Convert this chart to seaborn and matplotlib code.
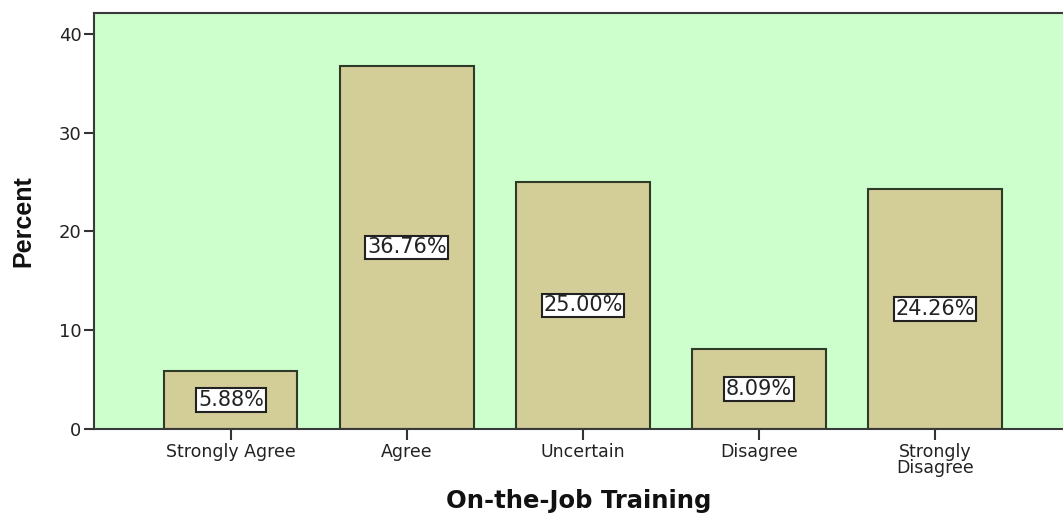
import matplotlib
matplotlib.use("Agg")
import matplotlib.pyplot as plt
import seaborn as sns
import pandas as pd

categories = ["Strongly Agree", "Agree", "Uncertain", "Disagree", "Strongly\nDisagree"]
percents = [5.88, 36.76, 25.00, 8.09, 24.26]
value_labels = ["5.88%", "36.76%", "25.00%", "8.09%", "24.26%"]
y_ticks = [0, 10, 20, 30, 40]

df = pd.DataFrame({"category": categories, "percent": percents})

sns.set_theme(style="white")
plt.rcParams["font.family"] = ["DejaVu Sans"]

fig = plt.figure(figsize=(10.63, 5.14), dpi=100)
ax = fig.add_axes([94 / 1063, 85 / 514, 1 - 94 / 1063, (429 - 13) / 514])
ax.set_facecolor("#CCFFCC")

sns.barplot(data=df, x="category", y="percent", color="#D3CE97",
            edgecolor="#2F3A28", linewidth=1.5, width=0.756, saturation=1,
            ax=ax)

for patch, lab in zip(ax.patches, value_labels):
    cx = patch.get_x() + patch.get_width() / 2
    h = patch.get_height()
    ax.text(cx, h / 2, lab, ha="center", va="center", fontsize=15,
            color="#222222",
            bbox=dict(boxstyle="square,pad=0.08", facecolor="white",
                      edgecolor="#222222", linewidth=1.5))

ax.set_xlim(-0.778, 4.727)
ax.set_ylim(0, 42.1)
ax.set_yticks(y_ticks)
ax.set_yticklabels([str(v) for v in y_ticks], fontsize=13, color="#222222")
ax.set_xticks(range(len(categories)))
ax.set_xticklabels(categories, fontsize=12.5, color="#222222", linespacing=0.9)

ax.tick_params(axis="y", direction="out", length=7, width=1.5, color="#333333", pad=2, left=True)
ax.tick_params(axis="x", direction="out", length=8, width=1.5, color="#333333", pad=2, bottom=True)

for side in ["left", "top", "bottom"]:
    ax.spines[side].set_visible(True)
    ax.spines[side].set_color("#3A3A3A")
    ax.spines[side].set_linewidth(1.5)
ax.spines["right"].set_visible(False)

ax.set_xlabel("On-the-Job Training", fontsize=17.5, fontweight="bold",
              color="#111111", labelpad=8)
ax.set_ylabel("Percent", fontsize=18, fontweight="bold", color="#111111",
              family=["Liberation Sans Narrow", "Liberation Sans", "DejaVu Sans"],
              labelpad=17)

fig.savefig("out.png", dpi=100, facecolor="white")
